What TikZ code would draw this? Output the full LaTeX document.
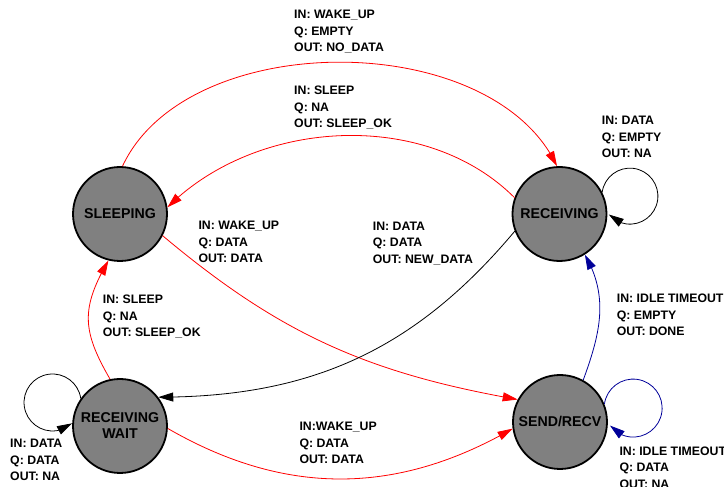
\documentclass[tikz,border=0pt]{standalone}
\usepackage{fontspec}
\setmainfont{Liberation Sans}
\usetikzlibrary{arrows.meta,bending}
\definecolor{myred}{RGB}{255,0,0}
\definecolor{myblue}{RGB}{0,0,153}
\definecolor{stategray}{RGB}{128,128,128}
\begin{document}
\begin{tikzpicture}[x=1pt,y=1pt,
  st/.style={circle, draw=black, line width=1.8pt, fill=stategray, minimum size=94pt, inner sep=0pt,
    font=\fontsize{14.2}{16}\selectfont\bfseries, align=center},
  lbl/.style={anchor=west, inner sep=0pt, align=left, font=\fontsize{12.3}{16.5}\selectfont\bfseries},
  tr/.style={line width=0.8pt, -{Triangle[length=15pt,width=9pt]}}]
\useasboundingbox (0,0) rectangle (724,487);

\node[st] (sl) at (120,273) {SLEEPING};
\node[st] (rc) at (559.5,273) {RECEIVING};
\node[st] (rw) at (120,61) {RECEIVING\\WAIT};
\node[st] (sr) at (560,65) {SEND/RECV};

% edges
\draw[tr, myred] (sl.87) .. controls +(65:153) and +(115:153) .. (rc.93);
\draw[tr, myred] (rc.160) .. controls +(135:126) and +(45:126) .. (sl.8);
\draw[tr, myred] (sl.-27) to[out=-40,in=170] (sr.152);
\draw[tr] (rc.201) to[out=230,in=0] (rw.37);
\draw[tr, myred] (rw.102) to[out=120,in=-120,looseness=1.2] (sl.256);
\draw[tr, myred] (rw.-3) to[out=-30,in=-150] (sr.188);
\draw[tr, myblue] (sr.61) to[out=70,in=-60] (rc.-58);

% self loops
\draw[tr] (rc.27) arc[start angle=172, end angle=-139, radius=28];
\draw[tr] (rw.145) arc[start angle=8, end angle=313, radius=28.5];
\draw[tr, myblue] (sr.22) arc[start angle=172, end angle=-143, radius=29];

% labels
\node[lbl] (l1) at (294,455.3) {IN: WAKE\_UP\\Q: EMPTY\\OUT: NO\_DATA};
\node[lbl] (l2) at (294,379.5) {IN: SLEEP\\Q: NA\\OUT: SLEEP\_OK};
\node[lbl] (l3) at (198.3,245) {IN: WAKE\_UP\\Q: DATA\\OUT: DATA};
\node[lbl] (l4) at (372.7,243.7) {IN: DATA\\Q: DATA\\OUT: NEW\_DATA};
\node[lbl] (l5) at (102.7,170.3) {IN: SLEEP\\Q: NA\\OUT: SLEEP\_OK};
\node[lbl] (l6) at (616.7,172) {IN: IDLE TIMEOUT\\Q: EMPTY\\OUT: DONE};
\node[lbl] (l7) at (299.3,43.7) {IN:WAKE\_UP\\Q: DATA\\OUT: DATA};
\node[lbl] (l8) at (10,27) {IN: DATA\\Q: DATA\\OUT: NA};
\node[lbl] (l9) at (619.3,19.7) {IN: IDLE TIMEOUT\\Q: DATA\\OUT: NA};
\node[lbl] (l10) at (601.7,350) {IN: DATA\\Q: EMPTY\\OUT: NA};
\end{tikzpicture}
\end{document}
